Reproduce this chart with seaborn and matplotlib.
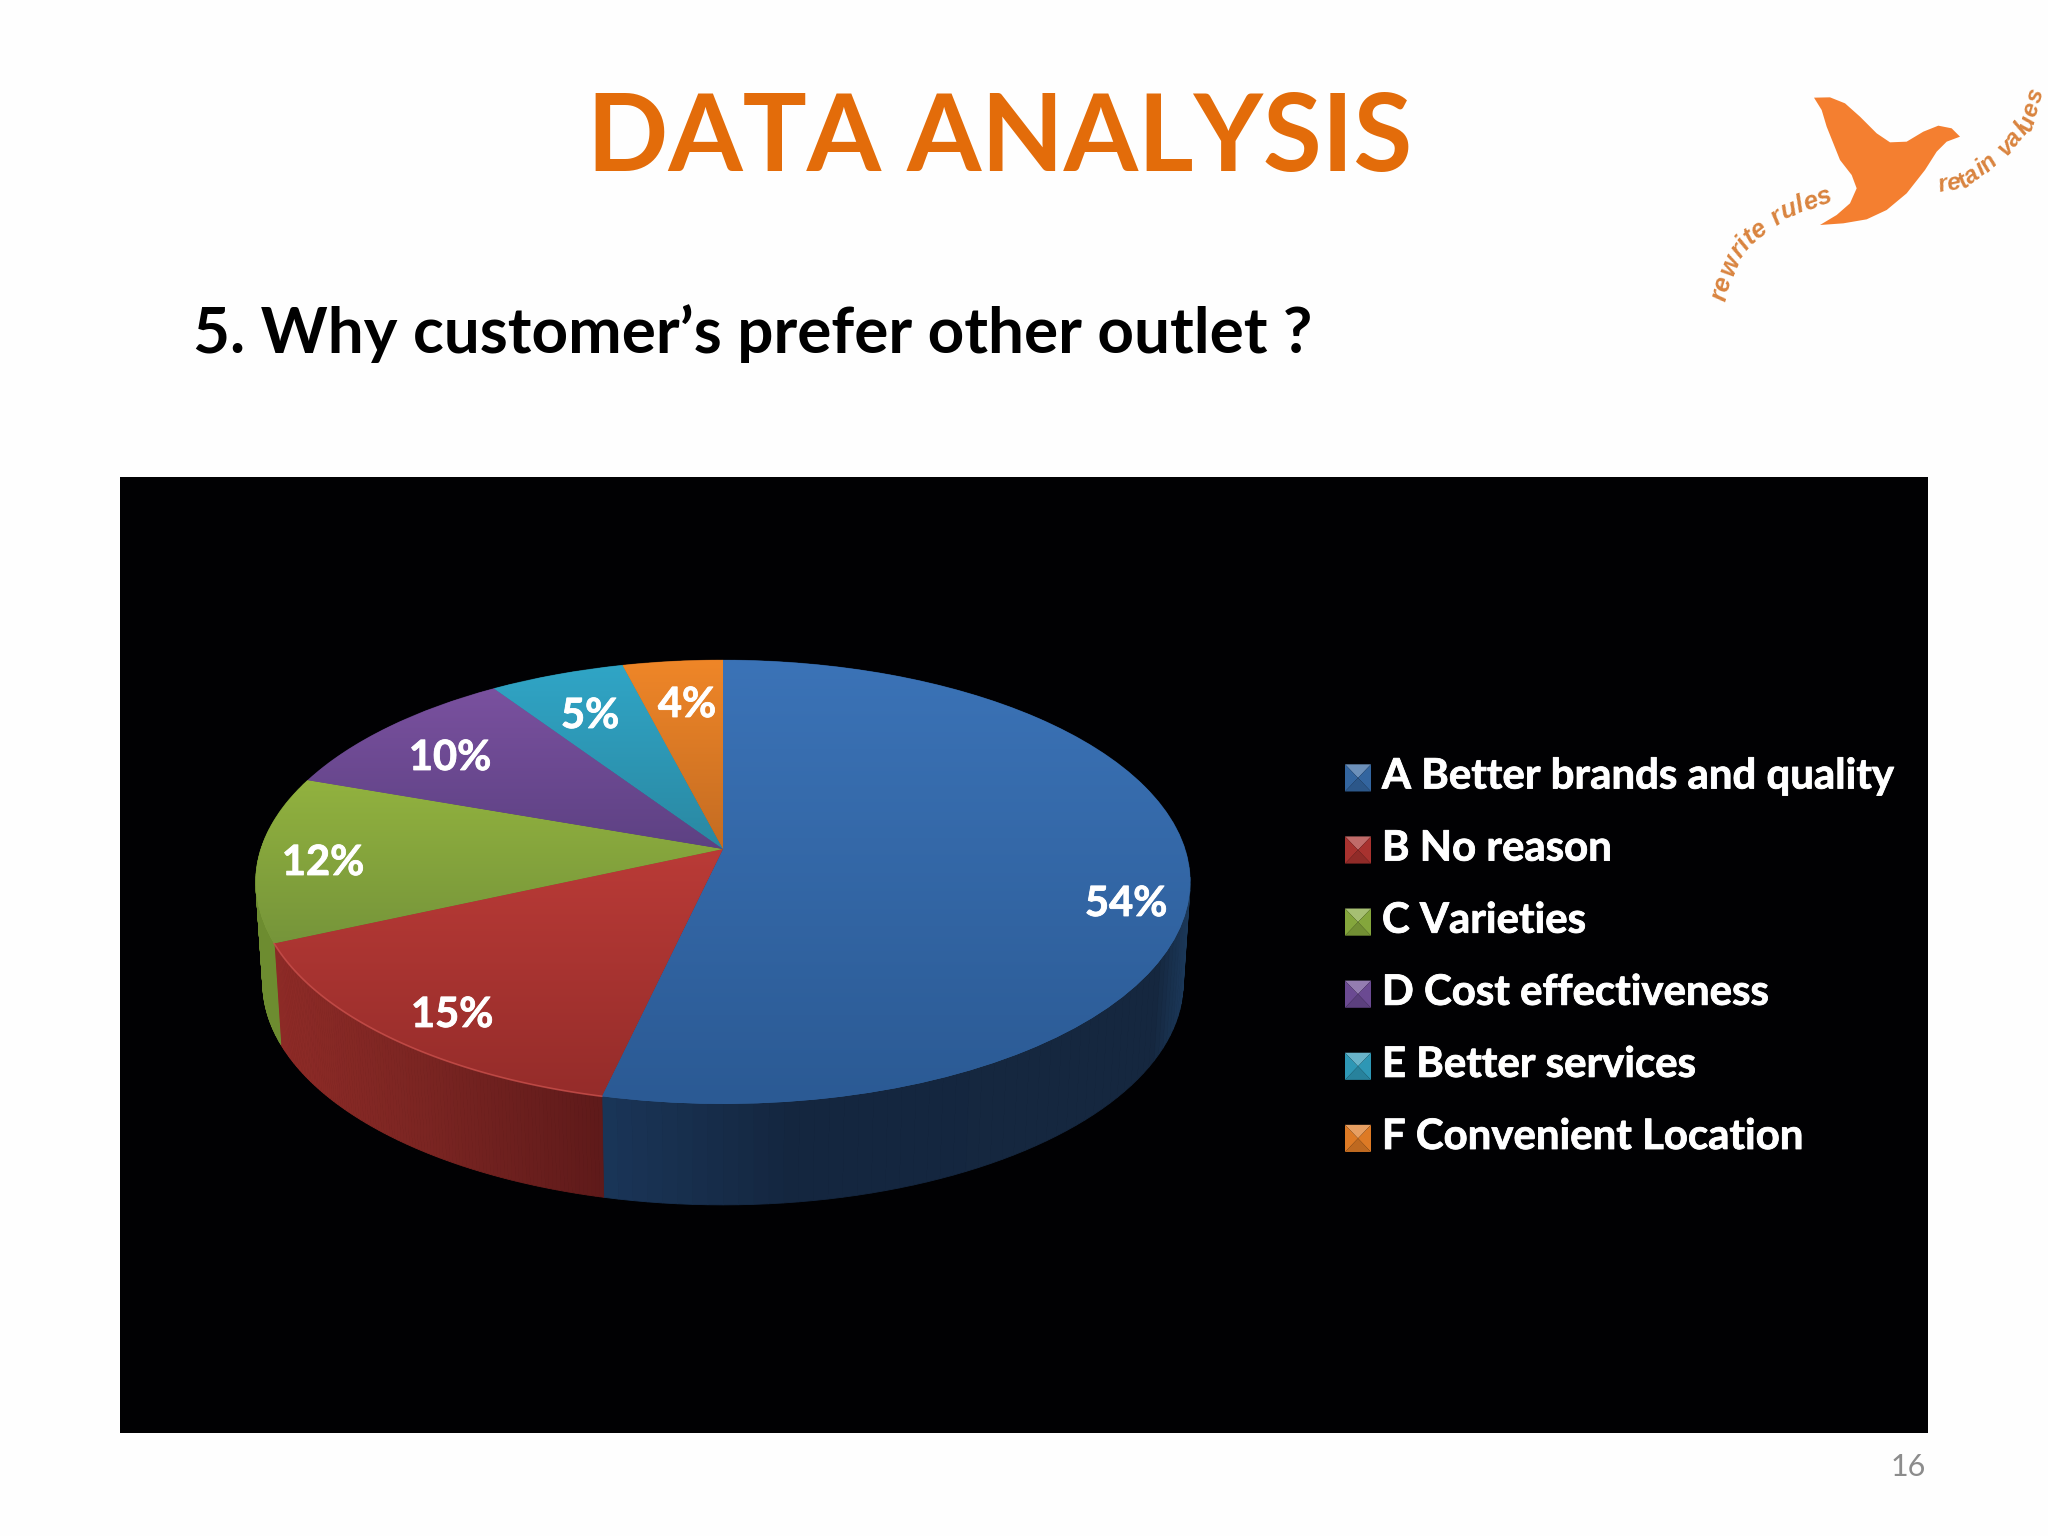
import numpy as np
import matplotlib
matplotlib.use("Agg")
import matplotlib.pyplot as plt
import matplotlib.patheffects as pe
import seaborn as sns
from matplotlib.colors import to_rgb
from matplotlib.legend_handler import HandlerBase
from matplotlib.patches import Polygon, Rectangle, Wedge
from matplotlib.textpath import TextPath
from matplotlib.font_manager import FontProperties
from matplotlib.transforms import Transform

# ---- data ----
categories = ["A Better brands and quality", "B No reason", "C Varieties",
              "D Cost effectiveness", "E Better services", "F Convenient Location"]
shares = [53.6, 14.7, 12.1, 10.2, 5.4, 4.0]
title_text = "DATA ANALYSIS"
question_text = "5. Why customer\u2019s prefer other outlet ?"
page_number = "16"

# ---- styling ----
base_colors = ["#33659f", "#a8322f", "#84a63c", "#6b4a92", "#2e97b5", "#dd7a25"]
top_light = ["#3b73b7", "#ba3b37", "#92b23f", "#7a519f", "#30a5c6", "#ef8628"]
top_dark = ["#2b5a94", "#952c2a", "#76953a", "#5d4183", "#2a88a2", "#c46c22"]
label_xy = [(1126, 904), (452, 1015), (323, 863), (450, 758), (590, 716), (687, 705)]

sns.set_theme(style="white")
plt.rcParams["font.family"] = ["Lato", "DejaVu Sans"]
palette = sns.color_palette(base_colors)

fig = plt.figure(figsize=(20.48, 15.36), dpi=100, facecolor="#fefefe")
ax = fig.add_axes([0, 0, 1, 1])
ax.add_patch(Rectangle((120, 477), 1808, 956, fc="#010103", ec="none", zorder=0))


class Disc(Transform):
    """Perspective view of the unit pie disc, in figure pixels."""
    input_dims = 2
    output_dims = 2
    is_separable = False
    has_inverse = False

    def __init__(self, drop=0.0, shrink=1.0):
        super().__init__()
        self.drop, self.shrink = drop, shrink

    def transform_non_affine(self, values):
        v = np.asarray(values, float)
        w = 1 + 0.1486 * v[:, 1]
        return np.column_stack([723 + self.shrink * 462 * v[:, 0] / w,
                                849 - 217 * v[:, 1] / w + self.drop])


top_tf = Disc()
low_tf = Disc(drop=101, shrink=0.985)

wedges, _, autotexts = ax.pie(shares, colors=palette, startangle=90, counterclock=False,
                              autopct="%.0f%%", wedgeprops=dict(lw=0))

wall_x = {0: [600, 800, 1160, 1190], 1: [270, 420, 600], 2: [250, 290]}
wall_c = {0: ["#1a3659", "#14263f", "#15273f", "#1b3859"],
          1: ["#8f2b27", "#7b2522", "#5f1a1a"],
          2: ["#6d8c30", "#6d8c30"]}
edges = 90 - np.cumsum([0] + shares) * 3.6
for i in range(len(shares)):
    th = np.radians(np.linspace(edges[i], edges[i + 1], 120))
    pts = np.column_stack([np.cos(th), np.sin(th)])
    upper, lower = top_tf.transform(pts), low_tf.transform(pts)
    for j in range(len(th) - 1):
        xm = upper[j, 0]
        if i in wall_x:
            rgb = [np.interp(xm, wall_x[i], [to_rgb(c)[k] for c in wall_c[i]]) for k in range(3)]
        else:
            rgb = tuple(0.45 * c for c in to_rgb(base_colors[i]))
        ax.add_patch(Polygon([upper[j], upper[j + 1], lower[j + 1], lower[j]],
                             fc=rgb, ec=rgb, lw=0.6, zorder=1))

for i, w in enumerate(wedges):
    w.set_transform(top_tf + ax.transData)
    w.set_zorder(2)
    box = top_tf.transform_path(w.get_path()).get_extents()
    ramp = np.linspace(to_rgb(top_light[i]), to_rgb(top_dark[i]), 256)[:, None, :]
    im = ax.imshow(ramp, extent=(box.x0, box.x1, box.y1, box.y0), aspect="auto",
                   interpolation="bilinear", zorder=3)
    im.set_clip_path(w)

# light rim on the front edge
th = np.radians(np.linspace(edges[1], edges[2], 80))
rim = top_tf.transform(np.column_stack([np.cos(th), np.sin(th)]))
ax.plot(rim[:, 0], rim[:, 1], color="#c9504c", lw=1.2, alpha=0.8, zorder=4)

glow = [pe.withStroke(linewidth=0.6, foreground="white")]
for t, xy in zip(autotexts, label_xy):
    t.set_position(xy)
    t.set(color="white", fontsize=30, fontweight="bold", ha="center", va="center", zorder=6,
          path_effects=glow)


class BevelHandler(HandlerBase):
    def create_artists(self, legend, orig_handle, xdescent, ydescent, width, height, fontsize, trans):
        x0, y0 = -xdescent, -ydescent - 3
        x1, y1 = x0 + width, y0 + height
        mid = ((x0 + x1) / 2, (y0 + y1) / 2)
        col = np.array(orig_handle.get_facecolor()[:3])
        light = col + (1 - col) * 0.28
        dark = col * 0.86
        sides = [([(x0, y1), (x1, y1), mid], light),
                 ([(x0, y0), (x1, y0), mid], dark),
                 ([(x0, y0), (x0, y1), mid], col),
                 ([(x1, y0), (x1, y1), mid], col)]
        return [Polygon(p, fc=c, ec="none", transform=trans) for p, c in sides]


leg = ax.legend(wedges, categories, handler_map={Wedge: BevelHandler()},
                loc="upper left", bbox_to_anchor=(1345, 757.5), bbox_transform=ax.transData,
                frameon=False, labelcolor="white", borderpad=0, borderaxespad=0,
                handlelength=0.62, handleheight=0.62, handletextpad=0.26, labelspacing=0.813,
                prop=dict(family="Lato", weight="bold", size=30.2))
leg.set_zorder(6)
for t in leg.get_texts():
    t.set_path_effects(glow)

# ---- slide text ----
ax.text(1000, 140, title_text, color="#E36C0A", fontsize=77, fontweight="bold", ha="center", va="center")
ax.text(193, 353, question_text, color="black", fontsize=46, fontweight="bold", ha="left", va="baseline")
ax.text(1908, 1467, page_number, color="#8c8c8c", fontsize=22, ha="center", va="center")

# ---- logo ----
bird = np.array([(402, 113), (450, 112), (495, 130), (540, 170), (590, 220), (630, 247), (680, 245),
                 (730, 215), (775, 197), (815, 205), (840, 230), (800, 245), (770, 275), (735, 330),
                 (680, 400), (620, 450), (560, 478), (490, 490), (420, 495), (470, 465), (510, 430),
                 (530, 385), (515, 345), (480, 300), (460, 250), (440, 200), (425, 150)], float)
ax.add_patch(Polygon(np.column_stack([1680 + bird[:, 0] / 3, 60 + bird[:, 1] / 3]),
                     fc="#F47F30", ec="none", zorder=5))


def curved(text, baseline, size=18.5):
    b = np.array(baseline, float)
    b = np.column_stack([1680 + b[:, 0] / 3, 60 + b[:, 1] / 3])
    seg = np.r_[0, np.cumsum(np.hypot(*np.diff(b, axis=0).T))]
    fp = FontProperties(family="Liberation Sans", style="italic", weight="bold")
    full = TextPath((0, 0), text, size=size, prop=fp).get_extents().x1
    for i, ch in enumerate(text):
        if ch == " ":
            continue
        start = TextPath((0, 0), text[:i + 1], size=size, prop=fp).get_extents().x1
        wd = TextPath((0, 0), ch, size=size, prop=fp).get_extents().width
        s = (start - wd / 2) / full * seg[-1]
        px, py = np.interp(s, seg, b[:, 0]), np.interp(s, seg, b[:, 1])
        qx, qy = np.interp(s + 4, seg, b[:, 0]), np.interp(s + 4, seg, b[:, 1])
        ang = np.degrees(np.arctan2(py - qy, qx - px))
        ax.text(px, py, ch, color="#D9843F", fontsize=size, family="Liberation Sans", style="italic",
                weight="bold", rotation=ang, rotation_mode="anchor", ha="center", va="baseline", zorder=5)


curved("rewrite rules", [(135, 730), (150, 670), (180, 600), (225, 545), (270, 510), (330, 470), (400, 445), (458, 425)])
curved("retain values", [(775, 398), (860, 380), (940, 325), (1000, 270), (1060, 195), (1092, 95)], size=17.5)

ax.set_aspect("auto")
ax.set_xlim(0, 2048)
ax.set_ylim(1536, 0)
ax.set_axis_off()
fig.savefig("out.png", dpi=100, facecolor=fig.get_facecolor())
